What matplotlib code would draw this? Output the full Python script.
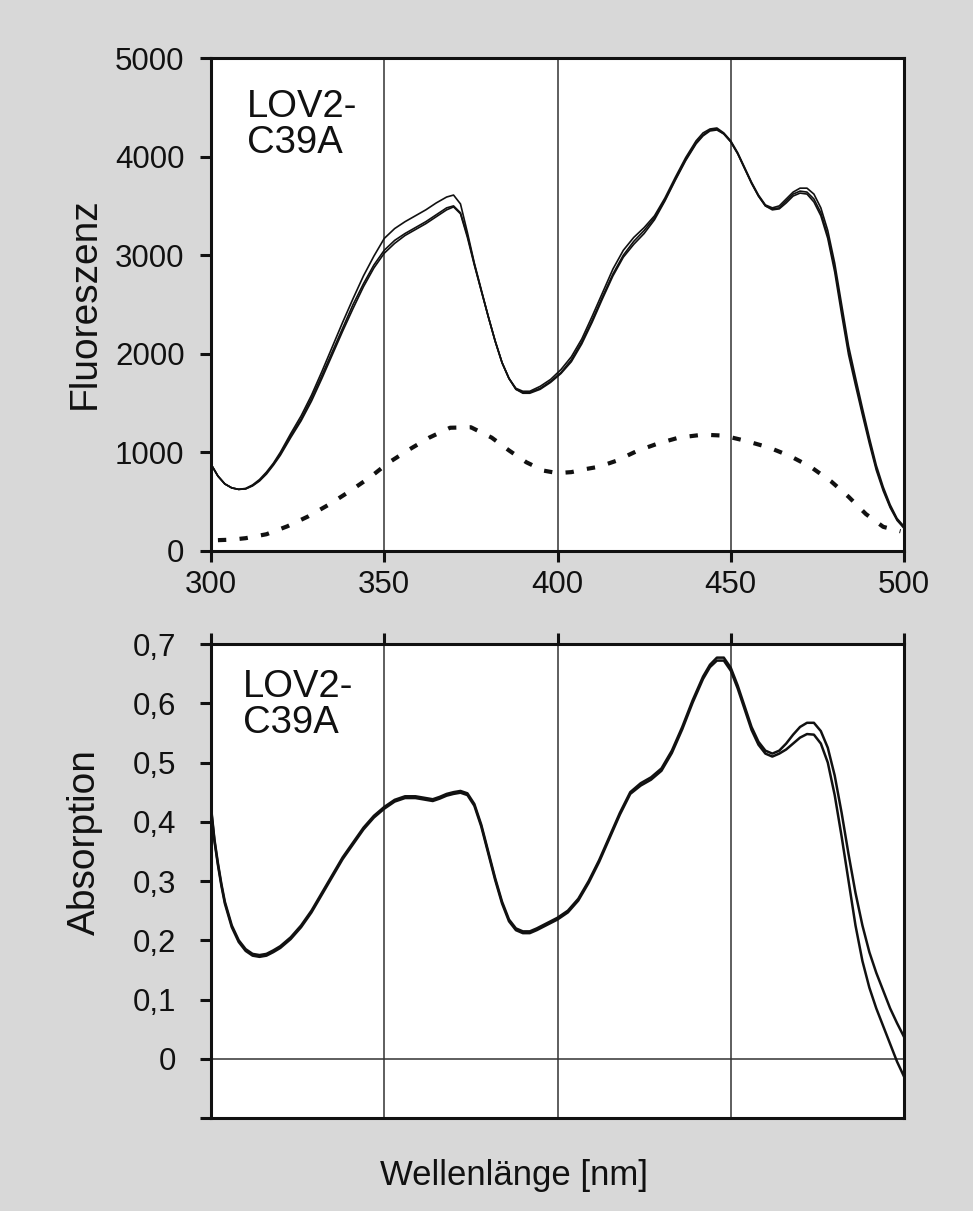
#!/usr/bin/env python3
"""LOV2-C39A: Fluoreszenz- und Absorptionsspektren"""
import matplotlib
matplotlib.use("Agg")
import matplotlib.pyplot as plt

plt.rcParams['font.family'] = ['Liberation Sans', 'DejaVu Sans']

# ── Daten ───────────────────────────────────────────────────────
wl_fl = [300, 302, 304, 306, 308, 310, 312, 314, 316, 318,
         320, 323, 326, 329, 332, 335, 338, 341, 344, 347,
         350, 353, 356, 359, 362, 365, 368, 370, 372, 374,
         376, 378, 380, 382, 384, 386, 388, 390, 392, 395,
         398, 401, 404, 407, 410, 413, 416, 419, 422, 425,
         428, 431, 434, 437, 440, 442, 444, 446, 448, 450,
         452, 454, 456, 458, 460, 462, 464, 466, 468, 470,
         472, 474, 476, 478, 480, 482, 484, 486, 488, 490,
         492, 494, 496, 498, 500]
fl_a = [880, 760, 680, 640, 625, 630, 660, 710, 780, 870,
        970, 1150, 1320, 1520, 1750, 1990, 2230, 2460, 2680, 2870,
        3020, 3120, 3200, 3260, 3320, 3390, 3460, 3490, 3420, 3180,
        2900, 2640, 2380, 2130, 1910, 1750, 1640, 1600, 1600, 1640,
        1710, 1800, 1920, 2100, 2320, 2560, 2790, 2980, 3110, 3220,
        3360, 3550, 3760, 3960, 4130, 4210, 4260, 4270, 4230, 4150,
        4030, 3880, 3730, 3600, 3500, 3460, 3470, 3530, 3600, 3630,
        3620, 3540, 3400, 3170, 2830, 2400, 1990, 1680, 1380, 1090,
        820, 610, 440, 310, 230]
fl_b = [880, 760, 680, 640, 625, 635, 670, 725, 800, 890,
        1000, 1190, 1370, 1580, 1820, 2070, 2320, 2560, 2790, 2990,
        3170, 3270, 3340, 3400, 3460, 3530, 3590, 3610, 3520, 3230,
        2920, 2650, 2380, 2130, 1910, 1750, 1650, 1620, 1620, 1670,
        1740, 1840, 1970, 2150, 2380, 2620, 2860, 3050, 3180, 3280,
        3400, 3580, 3790, 3990, 4160, 4240, 4280, 4290, 4240, 4160,
        4040, 3890, 3740, 3610, 3510, 3480, 3500, 3570, 3640, 3680,
        3680, 3620, 3480, 3250, 2920, 2500, 2080, 1760, 1450, 1150,
        870, 650, 470, 330, 250]
fl_c = [880, 760, 680, 640, 625, 630, 665, 715, 790, 880,
        985, 1170, 1340, 1550, 1780, 2020, 2260, 2500, 2710, 2900,
        3050, 3150, 3220, 3280, 3340, 3410, 3480, 3500, 3430, 3200,
        2910, 2640, 2380, 2130, 1910, 1750, 1640, 1610, 1610, 1650,
        1720, 1810, 1940, 2120, 2340, 2580, 2810, 3000, 3140, 3250,
        3380, 3560, 3770, 3970, 4140, 4220, 4270, 4280, 4230, 4150,
        4030, 3880, 3730, 3600, 3500, 3470, 3480, 3550, 3620, 3650,
        3640, 3570, 3430, 3200, 2870, 2450, 2030, 1720, 1410, 1120,
        840, 630, 450, 320, 240]

wl_dash = [302, 306, 310, 316, 322, 328, 334, 340, 346, 351,
           357, 363, 369, 375, 381, 386, 391, 396, 400, 404,
           408, 412, 417, 423, 429, 435, 442, 448, 454, 461,
           467, 473, 479, 484, 489, 494, 499]
fl_dash = [110, 115, 130, 170, 250, 350, 470, 605, 750, 890,
           1025, 1150, 1250, 1255, 1150, 1020, 900, 815, 790, 800,
           830, 855, 915, 1015, 1090, 1150, 1180, 1170, 1120, 1050,
           965, 855, 705, 550, 375, 245, 200]

wl_abs = [300, 301, 302, 303, 304, 306, 308, 310, 312, 314,
          316, 318, 320, 323, 326, 329, 332, 335, 338, 341,
          344, 347, 350, 353, 356, 359, 362, 364, 366, 368,
          370, 372, 374, 376, 378, 380, 382, 384, 386, 388,
          390, 392, 394, 396, 398, 400, 403, 406, 409, 412,
          415, 418, 421, 424, 427, 430, 433, 436, 439, 442,
          444, 446, 448, 450, 452, 454, 456, 458, 460, 462,
          464, 466, 468, 470, 472, 474, 476, 478, 480, 482,
          484, 486, 488, 490, 492, 494, 496, 498, 500]
abs_a = [0.425, 0.37, 0.33, 0.295, 0.265, 0.225, 0.2, 0.185, 0.177, 0.175,
         0.177, 0.183, 0.19, 0.205, 0.225, 0.25, 0.28, 0.31, 0.34, 0.365,
         0.39, 0.41, 0.425, 0.437, 0.443, 0.443, 0.44, 0.438, 0.442, 0.447,
         0.45, 0.452, 0.448, 0.43, 0.395, 0.35, 0.305, 0.265, 0.235, 0.22,
         0.215, 0.215, 0.22, 0.226, 0.232, 0.238, 0.25, 0.27, 0.3, 0.335,
         0.375, 0.415, 0.45, 0.465, 0.475, 0.49, 0.52, 0.56, 0.605, 0.645,
         0.665, 0.677, 0.677, 0.66, 0.63, 0.595, 0.56, 0.535, 0.52, 0.515,
         0.52, 0.532, 0.547, 0.56, 0.567, 0.567, 0.553, 0.525, 0.478, 0.415,
         0.345, 0.28, 0.225, 0.18, 0.145, 0.115, 0.085, 0.06, 0.037]
abs_b = [0.422, 0.367, 0.327, 0.292, 0.262, 0.222, 0.197, 0.182, 0.174, 0.172,
         0.174, 0.18, 0.187, 0.202, 0.222, 0.247, 0.277, 0.307, 0.337, 0.362,
         0.387, 0.407, 0.422, 0.434, 0.44, 0.44, 0.437, 0.435, 0.439, 0.444,
         0.447, 0.449, 0.445, 0.427, 0.392, 0.347, 0.302, 0.262, 0.232, 0.217,
         0.212, 0.212, 0.217, 0.223, 0.229, 0.235, 0.247, 0.267, 0.297, 0.332,
         0.372, 0.412, 0.447, 0.461, 0.471, 0.486, 0.516, 0.556, 0.601, 0.641,
         0.661, 0.672, 0.672, 0.655, 0.625, 0.59, 0.555, 0.53, 0.515, 0.51,
         0.515, 0.522, 0.532, 0.542, 0.548, 0.547, 0.532, 0.5, 0.445, 0.375,
         0.3, 0.225, 0.165, 0.12, 0.085, 0.055, 0.025, -0.005, -0.03]

fl_yticks = [0, 1000, 2000, 3000, 4000, 5000]
abs_yticks = [-0.1, 0, 0.1, 0.2, 0.3, 0.4, 0.5, 0.6, 0.7]
abs_yticklabels = ['', '0', '0,1', '0,2', '0,3', '0,4', '0,5', '0,6', '0,7']
wl_ticks = [300, 350, 400, 450, 500]
grid_wl = [350, 400, 450]

# ── Figur ───────────────────────────────────────────────────────
W, H = 973, 1211
bg = '#d8d8d8'
ink = '#111111'
fig = plt.figure(figsize=(W / 100, H / 100), dpi=100, facecolor=bg)


def px_axes(l, t, r, b):
    return fig.add_axes([l / W, 1 - b / H, (r - l) / W, (b - t) / H])


ax1 = px_axes(211, 58, 904, 551)
ax2 = px_axes(211, 644, 904, 1118)

for ax in (ax1, ax2):
    ax.set_facecolor('white')
    ax.set_xlim(300, 500)
    for s in ax.spines.values():
        s.set_linewidth(2.2)
        s.set_color(ink)
        s.set_zorder(5)
    for g in grid_wl:
        ax.axvline(g, color='#333333', lw=1.1, zorder=1)

# oben: Fluoreszenz
ax1.plot(wl_fl, fl_a, color=ink, lw=1.2, zorder=3)
ax1.plot(wl_fl, fl_c, color=ink, lw=1.2, zorder=3)
ax1.plot(wl_fl, fl_b, color=ink, lw=1.2, zorder=3)
ax1.plot(wl_dash, fl_dash, color=ink, lw=3.0, linestyle=(0, (2, 3.2)), zorder=3)
ax1.set_ylim(0, 5000)
ax1.set_yticks(fl_yticks)
ax1.set_xticks(wl_ticks)
ax1.tick_params(axis='both', direction='out', length=8, width=2.2,
                color=ink, labelsize=22.5, labelcolor=ink)
ax1.tick_params(axis='y', pad=11)
ax1.tick_params(axis='x', pad=6)

# unten: Absorption
ax2.axhline(0, color='#333333', lw=1.1, zorder=1)
ax2.plot(wl_abs, abs_a, color=ink, lw=1.8, zorder=3)
ax2.plot(wl_abs, abs_b, color=ink, lw=1.8, zorder=3)
ax2.set_ylim(-0.1, 0.7)
ax2.set_yticks(abs_yticks)
ax2.set_yticklabels(abs_yticklabels)
ax2.set_xticks(wl_ticks)
ax2.tick_params(axis='x', top=True, bottom=False, labelbottom=False,
                direction='out', length=8, width=2.2, color=ink)
ax2.tick_params(axis='y', direction='out', length=8, width=2.2, color=ink,
                labelsize=22.5, labelcolor=ink, pad=17)

# Beschriftungen
fig.text(85 / W, 1 - 303 / H, 'Fluoreszenz', rotation=90, ha='center',
         va='center', fontsize=28, color=ink)
fig.text(85 / W, 1 - 842 / H, 'Absorption', rotation=90, ha='center',
         va='center', fontsize=28, color=ink)
fig.text(514 / W, 1 - 1175 / H, 'Wellenlänge [nm]', ha='center',
         va='center', fontsize=25, color=ink)
fig.text(247 / W, 1 - 89 / H, 'LOV2-\nC39A', ha='left', va='top',
         fontsize=27.5, color=ink, linespacing=1.0)
fig.text(243 / W, 1 - 669 / H, 'LOV2-\nC39A', ha='left', va='top',
         fontsize=27.5, color=ink, linespacing=1.0)

fig.savefig('out.png', dpi=100, facecolor=bg)
print("✅ gespeichert: out.png")
